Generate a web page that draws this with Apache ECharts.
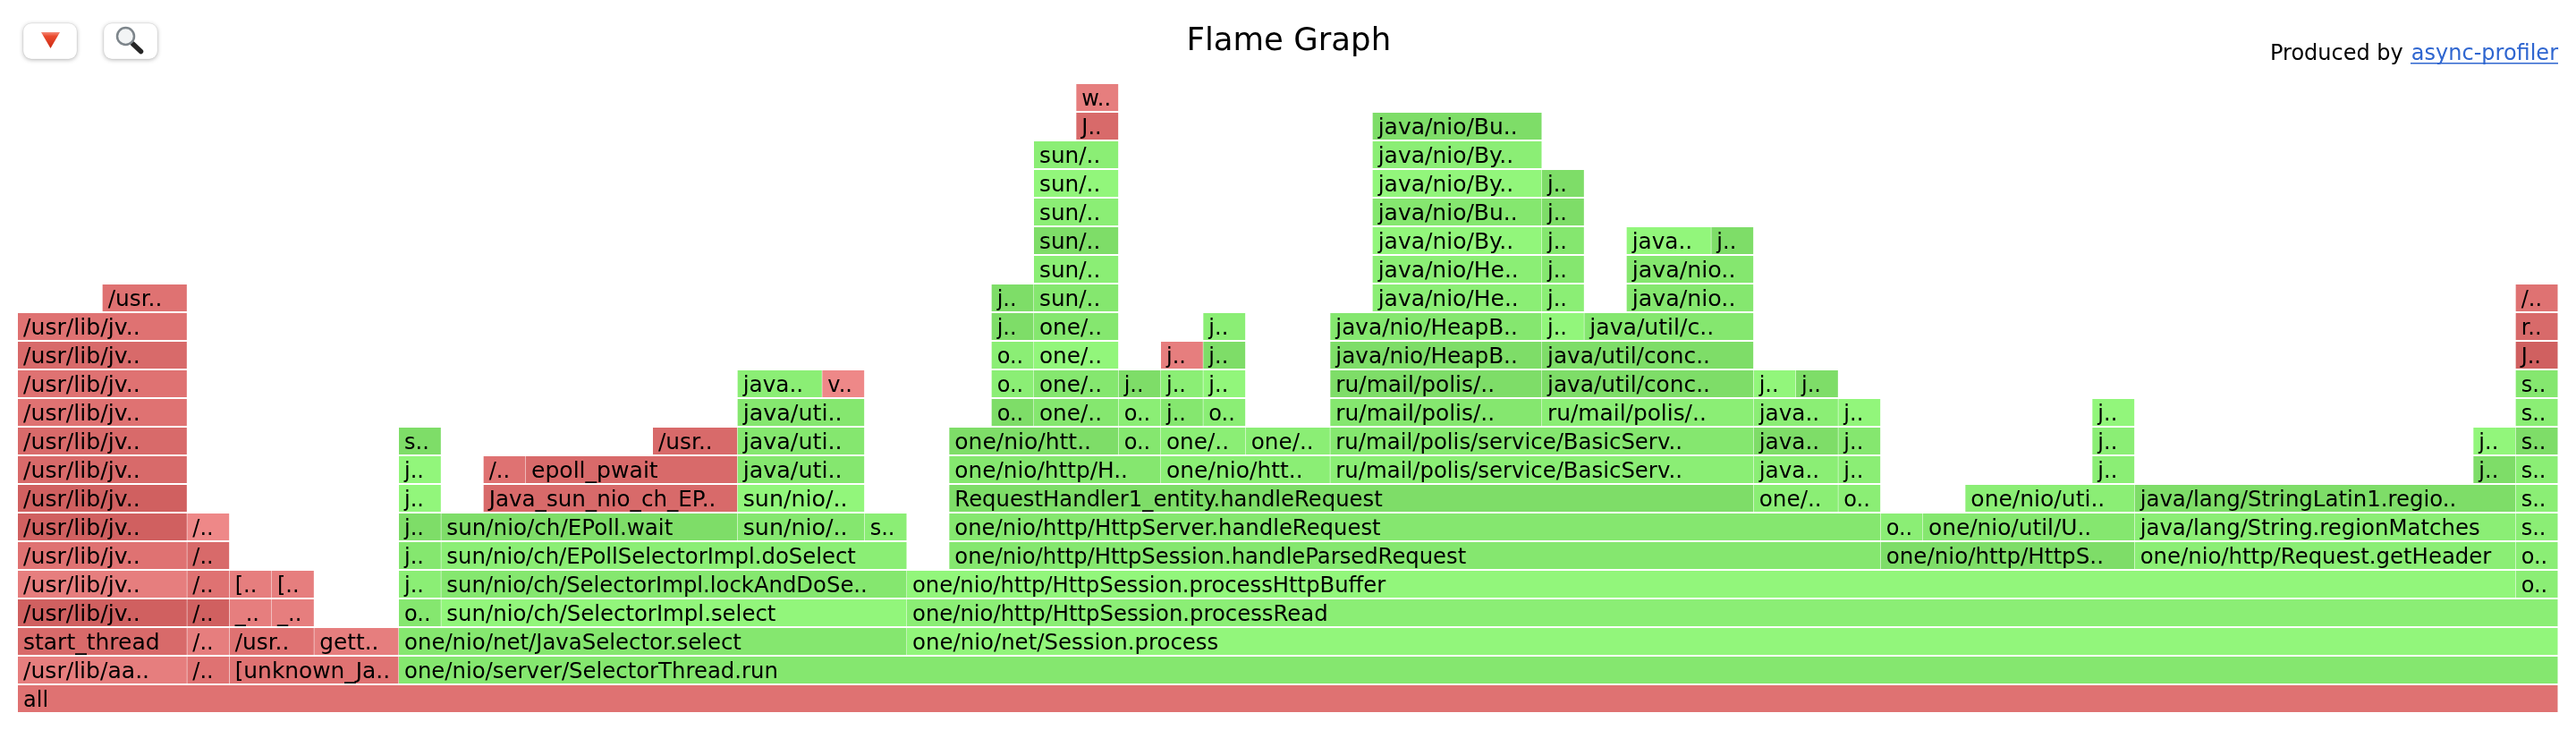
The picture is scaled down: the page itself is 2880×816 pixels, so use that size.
<!DOCTYPE html>
<html><head><meta charset="utf-8">
<style>html,body{margin:0;padding:0;background:#fff}#chart{width:2880px;height:816px}</style>
<script src="https://cdn.jsdelivr.net/npm/echarts@6/dist/echarts.min.js"></script>
</head><body><div id="chart"></div>
<script>
// Frames, one line per stack level (bottom = 0). Width is in samples, 60 samples in total.
const chartTitle = 'Flame Graph';
const creditPrefix = 'Produced by';
const creditLink = 'async-profiler';
const totalSamples = 60;
const totalLevels = 22;

const frameLevels = [
  0,
  1,1,1,1,
  2,2,2,2,2,2,
  3,3,3,3,3,3,3,
  4,4,4,4,4,4,4,4,
  5,5,5,5,5,5,5,5,
  6,6,6,6,6,6,6,6,6,6,6,
  7,7,7,7,7,7,7,7,7,7,
  8,8,8,8,8,8,8,8,8,8,8,8,8,
  9,9,9,9,9,9,9,9,9,9,9,9,9,9,
  10,10,10,10,10,10,10,10,10,10,10,10,10,
  11,11,11,11,11,11,11,11,11,11,11,11,11,
  12,12,12,12,12,12,12,12,
  13,13,13,13,13,13,13,13,
  14,14,14,14,14,14,14,
  15,15,15,15,
  16,16,16,16,16,
  17,17,17,
  18,18,18,
  19,19,
  20,20,
  21
];
const frameStarts = [
  0,
  0,4,5,9,
  0,4,5,7,9,21,
  0,4,5,6,9,10,21,
  0,4,5,6,9,10,21,59,
  0,4,9,10,22,44,50,59,
  0,4,9,10,17,20,22,44,45,50,59,
  0,9,11,17,22,41,43,46,50,59,
  0,9,11,12,17,22,27,31,41,43,49,58,59,
  0,9,15,17,22,26,27,29,31,41,43,49,58,59,
  0,17,23,24,26,27,28,31,36,41,43,49,59,
  0,17,19,23,24,26,27,28,31,36,41,42,59,
  0,23,24,27,28,31,36,59,
  0,23,24,28,31,36,37,59,
  2,23,24,32,36,38,59,
  24,32,36,38,
  24,32,36,38,40,
  24,32,36,
  24,32,36,
  24,32,
  25,32,
  25
];
const frameSamples = [
  60,
  4,1,4,51,
  4,1,2,2,12,39,
  4,1,1,1,1,11,39,
  4,1,1,1,1,11,38,1,
  4,1,1,11,22,6,9,1,
  4,1,1,7,3,1,22,1,5,9,1,
  4,1,6,3,19,2,1,4,9,1,
  4,1,1,5,3,5,4,10,2,1,1,1,1,
  4,1,2,3,4,1,2,2,10,2,1,1,1,1,
  4,3,1,2,1,1,1,5,5,2,1,1,1,
  4,2,1,1,2,1,1,1,5,5,1,1,1,
  4,1,2,1,1,5,5,1,
  4,1,2,1,5,1,4,1,
  2,1,2,4,1,3,1,
  2,4,1,3,
  2,4,1,2,1,
  2,4,1,
  2,4,1,
  2,4,
  1,4,
  1
];
const frameNames = [
  'all',
  '/usr/lib/aa..','/..','[unknown_Ja..','one/nio/server/SelectorThread.run',
  'start_thread','/..','/usr..','gett..','one/nio/net/JavaSelector.select','one/nio/net/Session.process',
  '/usr/lib/jv..','/..','_..','_..','o..','sun/nio/ch/SelectorImpl.select','one/nio/http/HttpSession.processRead',
  '/usr/lib/jv..','/..','[..','[..','j..','sun/nio/ch/SelectorImpl.lockAndDoSe..','one/nio/http/HttpSession.processHttpBuffer','o..',
  '/usr/lib/jv..','/..','j..','sun/nio/ch/EPollSelectorImpl.doSelect','one/nio/http/HttpSession.handleParsedRequest','one/nio/http/HttpS..','one/nio/http/Request.getHeader','o..',
  '/usr/lib/jv..','/..','j..','sun/nio/ch/EPoll.wait','sun/nio/..','s..','one/nio/http/HttpServer.handleRequest','o..','one/nio/util/U..','java/lang/String.regionMatches','s..',
  '/usr/lib/jv..','j..','Java_sun_nio_ch_EP..','sun/nio/..','RequestHandler1_entity.handleRequest','one/..','o..','one/nio/uti..','java/lang/StringLatin1.regio..','s..',
  '/usr/lib/jv..','j..','/..','epoll_pwait','java/uti..','one/nio/http/H..','one/nio/htt..','ru/mail/polis/service/BasicServ..','java..','j..','j..','j..','s..',
  '/usr/lib/jv..','s..','/usr..','java/uti..','one/nio/htt..','o..','one/..','one/..','ru/mail/polis/service/BasicServ..','java..','j..','j..','j..','s..',
  '/usr/lib/jv..','java/uti..','o..','one/..','o..','j..','o..','ru/mail/polis/..','ru/mail/polis/..','java..','j..','j..','s..',
  '/usr/lib/jv..','java..','v..','o..','one/..','j..','j..','j..','ru/mail/polis/..','java/util/conc..','j..','j..','s..',
  '/usr/lib/jv..','o..','one/..','j..','j..','java/nio/HeapB..','java/util/conc..','J..',
  '/usr/lib/jv..','j..','one/..','j..','java/nio/HeapB..','j..','java/util/c..','r..',
  '/usr..','j..','sun/..','java/nio/He..','j..','java/nio..','/..',
  'sun/..','java/nio/He..','j..','java/nio..',
  'sun/..','java/nio/By..','j..','java..','j..',
  'sun/..','java/nio/Bu..','j..',
  'sun/..','java/nio/By..','j..',
  'sun/..','java/nio/By..',
  'J..','java/nio/Bu..',
  'w..'
];
// Shade of each frame: 0-3 green (light to dark), 4-8 red (light to dark).
const frameShades = [
  6,
  5,6,6,2,
  7,5,6,5,2,0,
  8,8,5,5,2,0,1,
  5,6,5,5,1,2,0,1,
  6,7,2,1,2,3,1,1,
  8,4,3,3,2,1,2,1,2,1,1,
  8,0,7,0,3,1,1,1,3,1,
  7,0,6,7,2,2,1,1,1,1,1,3,1,
  7,3,7,2,3,2,1,1,2,3,2,1,0,3,
  6,2,3,2,1,2,1,2,1,1,0,0,1,
  6,1,4,1,2,3,1,0,3,3,0,3,2,
  7,1,0,5,3,3,3,8,
  6,3,2,1,2,0,2,7,
  6,3,2,1,1,2,6,
  1,1,2,2,
  3,0,2,0,3,
  1,2,3,
  0,0,3,
  1,1,
  7,3,
  5
];
const shadeColors = ['#92f67b','#8bee75','#85e76f','#7edd68','#ee8888','#e67e7e','#df7272','#d86a6a','#d06060'];

const frames = frameNames.map((n, i) => ({
  value: [frameStarts[i], frameStarts[i] + frameSamples[i], frameLevels[i], i]
}));

const LABEL_FONT = '24px "DejaVu Sans"';
const chart = echarts.init(document.getElementById('chart'), null, {renderer: 'canvas'});

// The reference's font sets labels a few pixels wider than DejaVu Sans does.
const measure = document.createElement('canvas').getContext('2d');
measure.font = LABEL_FONT;
function labelStretch(name) {
  const w = measure.measureText(name).width;
  const extra = name.length >= 8 ? 6 : name.length >= 5 ? 2 : 0;
  return (w + extra) / w;
}

function button(x, y) {
  return {type: 'rect', x: x, y: y, shape: {width: 60, height: 40, r: 9},
    style: {fill: '#fff', stroke: 'rgba(0,0,0,0.06)', lineWidth: 1, shadowBlur: 5, shadowOffsetY: 1, shadowColor: 'rgba(0,0,0,0.28)'}, silent: true};
}

chart.setOption({
  animation: false,
  backgroundColor: '#fff',
  title: {
    text: chartTitle, left: 1321.5, top: 23.5,
    textStyle: {fontFamily: 'DejaVu Sans', fontSize: 35.5, fontWeight: 'normal', color: '#000'}
  },
  grid: {left: 20, top: 94, width: 2840, height: 704, containLabel: false},
  xAxis: {type: 'value', min: 0, max: totalSamples, show: false},
  yAxis: {type: 'value', min: 0, max: totalLevels, show: false},
  graphic: [
    button(26, 26), button(116, 26),
    {type: 'polygon', shape: {points: [[46, 36], [67, 36], [56.5, 54]]},
      style: {fill: new echarts.graphic.LinearGradient(0, 0, 0, 1, [{offset: 0, color: '#f48a78'}, {offset: 0.25, color: '#ea4a2e'}, {offset: 1, color: '#cc2a12'}])}, silent: true},
    {type: 'line', shape: {x1: 148.5, y1: 49, x2: 157.5, y2: 57.5}, style: {stroke: '#262626', lineWidth: 5.5, lineCap: 'round'}, silent: true},
    {type: 'circle', shape: {cx: 140.5, cy: 40.5, r: 9.5}, style: {fill: '#f2f4f5', stroke: '#7d858b', lineWidth: 2.5}, silent: true},
    {type: 'text', x: 2538, y: 60.3, style: {text: creditPrefix, font: '24px "DejaVu Sans"', fill: '#000', verticalAlign: 'middle'}, silent: true},
    {type: 'text', x: 2860, y: 60.3, style: {text: creditLink, font: '24px "DejaVu Sans"', fill: '#2f66d0', align: 'right', verticalAlign: 'middle'}, silent: true},
    {type: 'line', shape: {x1: 2695, y1: 70.7, x2: 2860, y2: 70.7}, style: {stroke: '#2f66d0', lineWidth: 1.5}, silent: true}
  ],
  series: [{
    type: 'custom',
    coordinateSystem: 'cartesian2d',
    clip: false,
    silent: true,
    encode: {x: [0, 1], y: 2},
    data: frames,
    renderItem(params, api) {
      const a = api.coord([api.value(0), api.value(2) + 1]);
      const b = api.coord([api.value(1), api.value(2)]);
      const i = api.value(3);
      return {type: 'group', children: [
        {type: 'rect', shape: {x: a[0], y: a[1], width: b[0] - a[0] - 0.5, height: b[1] - a[1] - 2},
          style: {fill: shadeColors[frameShades[i]]}},
        {type: 'text', x: a[0] + 6, y: a[1] + 17.3, scaleX: labelStretch(frameNames[i]),
          style: {x: 0, y: 0, text: frameNames[i], font: LABEL_FONT, fill: '#000', verticalAlign: 'middle'}}
      ]};
    }
  }]
});
</script></body></html>
